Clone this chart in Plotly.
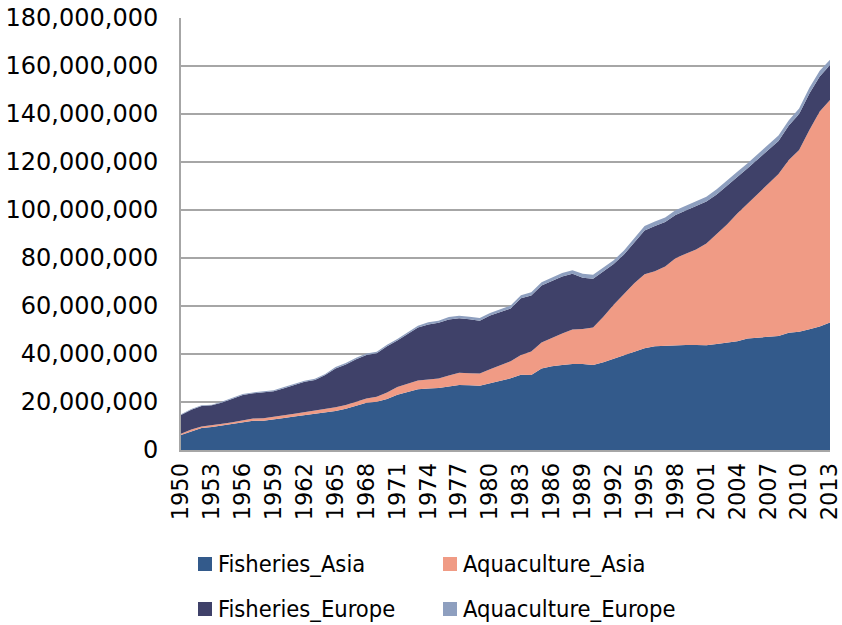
import plotly.graph_objects as go

years = list(range(1950, 2014))

# values in million tonnes
fisheries_asia = [6.3, 7.9, 9.2, 9.6, 10.2, 10.9, 11.4, 12.2, 12.2, 12.6,
                  13.3, 14.0, 14.6, 14.9, 15.6, 16.3, 17.2, 18.3, 19.7, 20.1,
                  21.3, 23.0, 24.3, 25.3, 25.6, 25.8, 26.5, 27.1, 27.0, 26.8,
                  27.8, 28.9, 29.9, 31.4, 31.3, 34.0, 34.9, 35.4, 35.8, 35.8,
                  35.4, 36.6, 38.0, 39.6, 40.9, 42.4, 43.2, 43.5, 43.8, 43.8,
                  43.7, 43.6, 44.2, 44.8, 45.3, 46.5, 46.8, 47.1, 47.5, 48.9,
                  49.3, 50.3, 51.5, 53.1]
aquaculture_asia = [0.5, 0.6, 0.6, 0.6, 0.7, 0.7, 0.8, 0.9, 1.0, 1.1,
                    1.2, 1.1, 1.2, 1.4, 1.5, 1.5, 1.6, 1.7, 1.8, 2.1,
                    2.7, 3.3, 3.5, 3.7, 3.8, 4.0, 4.5, 5.1, 5.0, 5.1,
                    5.8, 6.3, 7.1, 8.2, 9.7, 10.8, 11.9, 13.1, 14.4, 14.6,
                    15.6, 18.9, 22.5, 25.4, 28.6, 30.8, 31.3, 33.0, 36.1, 38.0,
                    39.8, 42.4, 45.8, 49.2, 53.2, 56.1, 60.0, 63.4, 67.5, 71.9,
                    75.7, 83.0, 89.5, 92.7]
fisheries_europe = [7.8, 8.3, 8.5, 8.4, 8.9, 9.9, 10.7, 10.5, 10.7, 10.8,
                    11.2, 12.1, 12.6, 12.9, 14.1, 16.2, 16.8, 17.8, 18.1, 18.1,
                    19.2, 19.3, 20.6, 22.0, 22.9, 23.2, 23.4, 22.7, 22.5, 22.0,
                    22.4, 22.4, 22.0, 23.6, 23.4, 23.7, 23.7, 23.8, 23.2, 21.4,
                    20.4, 19.0, 17.0, 16.5, 17.0, 18.3, 18.8, 18.5, 18.0, 18.0,
                    17.9, 17.5, 16.5, 16.3, 15.3, 14.8, 14.4, 14.3, 13.8, 14.4,
                    15.0, 15.2, 14.6, 14.6]
aquaculture_europe = [0.3, 0.3, 0.3, 0.3, 0.4, 0.4, 0.4, 0.4, 0.4, 0.4,
                      0.5, 0.5, 0.5, 0.5, 0.5, 0.6, 0.6, 0.6, 0.6, 0.6,
                      0.7, 0.7, 0.8, 0.8, 0.9, 0.9, 1.0, 1.0, 1.0, 1.1,
                      1.1, 1.2, 1.2, 1.3, 1.3, 1.4, 1.4, 1.5, 1.5, 1.6,
                      1.6, 1.6, 1.6, 1.6, 1.7, 1.8, 1.9, 1.9, 2.0, 2.0,
                      2.0, 2.0, 2.1, 2.1, 2.1, 2.1, 2.1, 2.2, 2.2, 2.2,
                      2.3, 2.4, 2.4, 2.2]

series_names = ["Fisheries_Asia", "Aquaculture_Asia", "Fisheries_Europe", "Aquaculture_Europe"]
series_values = [fisheries_asia, aquaculture_asia, fisheries_europe, aquaculture_europe]
colors = ["#335A8B", "#F09B85", "#3F4169", "#8E9FBF"]

y_tick_vals = list(range(0, 180_000_001, 20_000_000))
y_tick_text = ["{:,}".format(v) for v in y_tick_vals]
x_tick_vals = list(range(1950, 2014, 3))

fig = go.Figure()
for name, vals, col in zip(series_names, series_values, colors):
    fig.add_trace(go.Scatter(
        x=years, y=[v * 1e6 for v in vals], name=name,
        mode="lines", stackgroup="one",
        line=dict(width=0, color=col), fillcolor=col,
        showlegend=False, hoverinfo="x+y+name",
    ))

# plot area in pixels
L, R, T, B = 181, 830, 18, 450
W, H = 842, 625

def px(x):
    return (x - L) / (R - L)

def py(y):
    return (B - y) / (B - T)

legend_pos = [(198, 564), (443, 564), (198, 609), (443, 609)]
shapes = []
annotations = []
for (lx, ly), name, col in zip(legend_pos, series_names, colors):
    shapes.append(dict(type="rect", xref="paper", yref="paper",
                       x0=px(lx), x1=px(lx + 14), y0=py(ly + 7), y1=py(ly - 7),
                       fillcolor=col, line=dict(width=0)))
    annotations.append(dict(xref="paper", yref="paper", x=px(lx + 19), y=py(ly),
                            text=name, showarrow=False, xanchor="left", yanchor="middle",
                            borderpad=0,
                            font=dict(family="DejaVu Sans Condensed, DejaVu Sans", size=23.5, color="#000000")))

fig.update_layout(
    width=W, height=H,
    margin=dict(l=L, r=W - R, t=T, b=H - B, autoexpand=False),
    plot_bgcolor="white", paper_bgcolor="white",
    showlegend=False,
    shapes=shapes, annotations=annotations,
    font=dict(family="DejaVu Sans", color="#000000"),
    xaxis=dict(range=[1950, 2013], tickvals=x_tick_vals, ticktext=[str(v) for v in x_tick_vals],
               tickangle=-90, showgrid=False, zeroline=False, automargin=False,
               showline=True, linecolor="#A6A6A6", linewidth=2, ticklabeloverflow="allow",
               ticks="", tickfont=dict(size=22.5, family="DejaVu Sans"), ticklabelstandoff=2),
    yaxis=dict(range=[0, 180_000_000], tickvals=y_tick_vals, ticktext=y_tick_text,
               showgrid=True, gridcolor="#A6A6A6", gridwidth=1.5, zeroline=False, automargin=False,
               showline=True, linecolor="#A6A6A6", linewidth=2,
               ticks="", tickfont=dict(size=24, family="DejaVu Sans"), ticklabelstandoff=16),
)

fig.write_html("out.html", config={"displayModeBar": False},
               post_script="document.body.style.margin='0';document.body.style.padding='0';")
